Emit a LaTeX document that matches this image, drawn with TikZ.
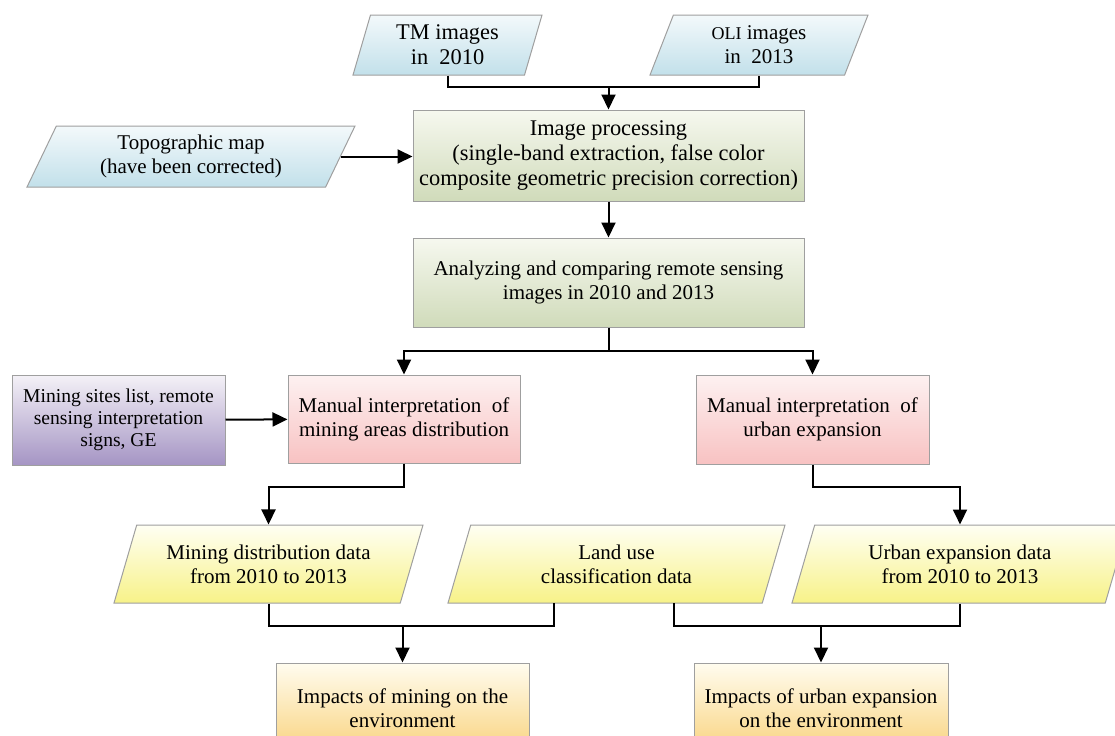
\documentclass[tikz,border=0pt]{standalone}
\usepackage{fontspec}
\setmainfont{Liberation Serif}
\usetikzlibrary{arrows.meta,shapes.geometric}

\definecolor{bluetop}{HTML}{F3F9FB}
\definecolor{bluebot}{HTML}{C2E0EA}
\definecolor{greentop}{HTML}{F6F8EF}
\definecolor{greenbot}{HTML}{D0DBBA}
\definecolor{pinktop}{HTML}{FDF1F1}
\definecolor{pinkbot}{HTML}{F8C2C2}
\definecolor{purptop}{HTML}{F4F1F7}
\definecolor{purpbot}{HTML}{A595C4}
\definecolor{yeltop}{HTML}{FFFFF3}
\definecolor{yelbot}{HTML}{F7F288}
\definecolor{orgtop}{HTML}{FFFCEF}
\definecolor{orgbot}{HTML}{F9D37E}

\tikzset{
	box/.style={rectangle, draw=gray!75, line width=0.5pt, align=center, inner sep=2pt,
		font=\fontsize{10.5}{11.9}\selectfont},
	bigtext/.style={font=\fontsize{11.2}{12.5}\selectfont},
	smalltext/.style={font=\fontsize{9.8}{10.9}\selectfont},
	datain/.style={box, trapezium, trapezium stretches body,
		trapezium left angle=#1, trapezium right angle=180-#1},
	bluefill/.style={top color=bluetop, bottom color=bluebot},
	greenfill/.style={top color=greentop, bottom color=greenbot},
	pinkfill/.style={top color=pinktop, bottom color=pinkbot},
	purpfill/.style={top color=purptop, bottom color=purpbot},
	yelfill/.style={top color=yeltop, bottom color=yelbot},
	orgfill/.style={top color=orgtop, bottom color=orgbot},
	link/.style={line width=1pt},
	arr/.style={link, -{Triangle[length=7.5pt,width=7pt]}},
}

\begin{document}
\begin{tikzpicture}[x=0.5pt,y=-0.5pt]

\clip (0,0) rectangle (1115,735);

% inputs
\node[datain=70, bluefill, bigtext, minimum width=94.5pt, minimum height=30pt] (tm) at (447.5,45) {TM images\\in\ \ 2010};
\node[datain=63, bluefill, minimum width=109pt, minimum height=30pt] (oli) at (759,45) {{\small OLI} images\\in\ \ 2013};
\node[datain=60, bluefill, minimum width=164pt, minimum height=30.5pt] (topo) at (191,156.5) {Topographic map\\(have been corrected)};

% processing
\node[box, greenfill, bigtext, minimum width=195.5pt, minimum height=45.5pt] (improc) at (608.5,155.5) {Image processing\\(single-band extraction, false color\\composite geometric precision correction)};
\node[box, greenfill, minimum width=195.5pt, minimum height=44.5pt] (analyze) at (608.5,282.5) {Analyzing and comparing remote sensing\\images in 2010 and 2013};

% interpretation
\node[box, purpfill, smalltext, minimum width=106.5pt, minimum height=45pt] (signs) at (118.5,420) {Mining sites list, remote\\sensing interpretation\\signs, GE};
\node[box, pinkfill, minimum width=116pt, minimum height=44pt] (minint) at (404,419) {Manual interpretation\ \ of\\mining areas distribution};
\node[box, pinkfill, minimum width=116.5pt, minimum height=44.5pt] (urbint) at (812.5,419.5) {Manual interpretation\ \ of\\urban expansion};

% data
\node[datain=64, yelfill, minimum width=154.5pt, minimum height=39pt] (minedata) at (268.5,564) {Mining distribution data\\from 2010 to 2013};
\node[datain=64, yelfill, minimum width=168.5pt, minimum height=39pt] (landuse) at (616.5,564) {Land use\\classification data};
\node[datain=64, yelfill, minimum width=168pt, minimum height=39pt] (urbdata) at (960,564) {Urban expansion data\\from 2010 to 2013};

% results
\node[box, orgfill, minimum width=126.5pt, minimum height=45pt] (impmine) at (402.5,708) {Impacts of mining on the\\environment};
\node[box, orgfill, minimum width=127pt, minimum height=45pt] (impurb) at (821,708) {Impacts of urban expansion\\on the environment};

% joints
\coordinate (j1) at (608.5,87);
\coordinate (j2) at (608.5,351);
\coordinate (k1) at (404,487);
\coordinate (k2) at (812.5,487);
\coordinate (lu1) at (554,603);
\coordinate (lu2) at (674,603);
\coordinate (m1) at (402.5,626);
\coordinate (m2) at (821,626);

\draw[link] (tm) |- (j1) -| (oli);
\draw[arr] (j1) -- (improc);
\draw[arr] (topo.east) -- (topo.east -| improc.west);
\draw[arr] (improc) -- (analyze);

\draw[link] (analyze) -- (j2);
\draw[arr] (j2) -| (minint);
\draw[arr] (j2) -| (urbint);
\draw[arr] (signs) -- (minint);

\draw[arr] (minint) -- (k1) -| (minedata);
\draw[arr] (urbint) -- (k2) -| (urbdata);

\draw[link] (minedata) |- (m1) -| (lu1);
\draw[arr] (m1) -- (impmine);
\draw[link] (urbdata) |- (m2) -| (lu2);
\draw[arr] (m2) -- (impurb);

\end{tikzpicture}
\end{document}
